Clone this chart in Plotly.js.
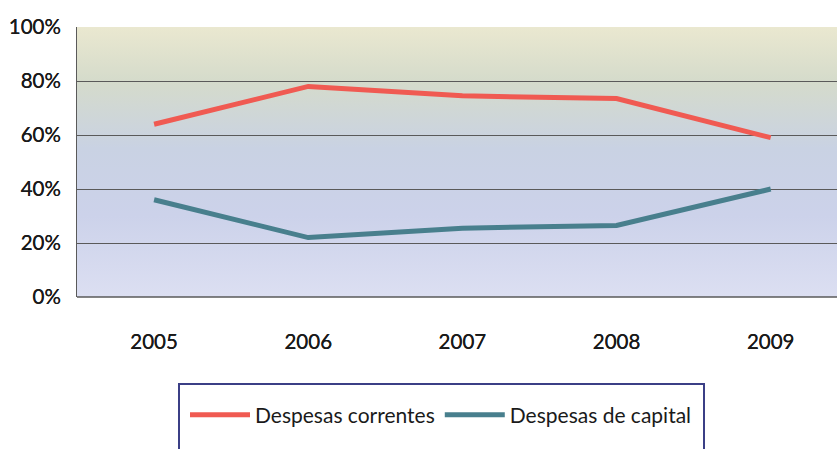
<!DOCTYPE html>
<html>
<head>
<meta charset="utf-8">
<script src="https://cdn.plot.ly/plotly-3.0.1.min.js"></script>
<style>
  html, body { margin: 0; padding: 0; background: #fff; overflow: hidden; }
  #chart { width: 837px; height: 449px; }
</style>
</head>
<body>
<div id="chart"></div>
<script>
// Data
const years = ['2005', '2006', '2007', '2008', '2009'];
const correntes = [0.64, 0.78, 0.745, 0.735, 0.59];
const capital = [0.36, 0.22, 0.255, 0.265, 0.40];
const yTicks = [0, 0.2, 0.4, 0.6, 0.8, 1.0];
const yTickText = ['0%', '20%', '40%', '60%', '80%', '100%'];

// Plot area in pixels (used to place the legend frame)
const W = 837, H = 449;
const margin = { l: 77, r: 0, t: 27, b: 152 };
const plotW = W - margin.l - margin.r;
const plotH = H - margin.t - margin.b;
const px = x => (x - margin.l) / plotW;
const py = y => (H - margin.b - y) / plotH;

// Background gradient of the plot area
const bgSvg = `<svg xmlns="http://www.w3.org/2000/svg" width="100" height="100" preserveAspectRatio="none">
<defs><linearGradient id="g" x1="0" y1="0" x2="0" y2="1">
<stop offset="0" stop-color="#eae8d0"/>
<stop offset="0.2" stop-color="#d5dbcb"/>
<stop offset="0.45" stop-color="#c9d2e3"/>
<stop offset="0.7" stop-color="#ccd2ea"/>
<stop offset="1" stop-color="#dcdff2"/>
</linearGradient></defs>
<rect width="100" height="100" fill="url(#g)"/></svg>`;
const bgUri = 'data:image/svg+xml;base64,' + btoa(bgSvg);

const fam = 'Lato, "Open Sans", sans-serif';
const tickFont = { family: fam, size: 20.5, color: '#1a1a1a', shadow: '0 0 0.4px #1a1a1a' };

const traces = [
    {
        x: years, y: correntes, type: 'scatter', mode: 'lines',
        name: 'Despesas correntes',
        line: { color: '#f05a52', width: 5 }
    },
    {
        x: years, y: capital, type: 'scatter', mode: 'lines',
        name: 'Despesas de capital',
        line: { color: '#487f8d', width: 5 }
    }
];

const layout = {
    width: W,
    height: H,
    margin: margin,
    paper_bgcolor: '#ffffff',
    plot_bgcolor: 'rgba(0,0,0,0)',
    showlegend: true,
    font: { family: fam, size: 20, color: '#1a1a1a' },
    xaxis: {
        type: 'category',
        range: [-0.5, 4.43],
        showgrid: false,
        zeroline: false,
        showline: false,
        ticks: '',
        ticklabelstandoff: 30,
        tickfont: tickFont,
        fixedrange: true
    },
    yaxis: {
        range: [0, 1],
        tickvals: yTicks,
        ticktext: yTickText,
        showgrid: true,
        gridcolor: '#5a5a5a',
        gridwidth: 1,
        zeroline: false,
        showline: true,
        linecolor: '#5a5a5a',
        linewidth: 1,
        ticks: '',
        ticklabelstandoff: 11,
        tickfont: tickFont,
        fixedrange: true
    },
    images: [{
        source: bgUri,
        xref: 'paper', yref: 'paper',
        x: 0, y: 1, sizex: 1, sizey: 1,
        xanchor: 'left', yanchor: 'top',
        sizing: 'stretch', layer: 'below'
    }],
    shapes: [
        {
            type: 'line', xref: 'paper', yref: 'paper',
            x0: 0, x1: 1, y0: 0, y1: 0,
            line: { color: '#5a5a5a', width: 1.5 }
        },
        {
            type: 'rect', xref: 'paper', yref: 'paper',
            x0: px(179), x1: px(704), y0: py(384), y1: py(470),
            line: { color: '#3b3f86', width: 2 },
            fillcolor: 'rgba(0,0,0,0)'
        }
    ],
    legend: {
        orientation: 'h',
        x: px(185), xanchor: 'left',
        y: py(415), yanchor: 'middle',
        bgcolor: 'rgba(0,0,0,0)',
        borderwidth: 0,
        itemwidth: 60,
        font: { family: fam, size: 21, color: '#1a1a1a', shadow: 'none' }
    }
};

Plotly.newPlot('chart', traces, layout, { displayModeBar: false, staticPlot: true });
</script>
</body>
</html>
